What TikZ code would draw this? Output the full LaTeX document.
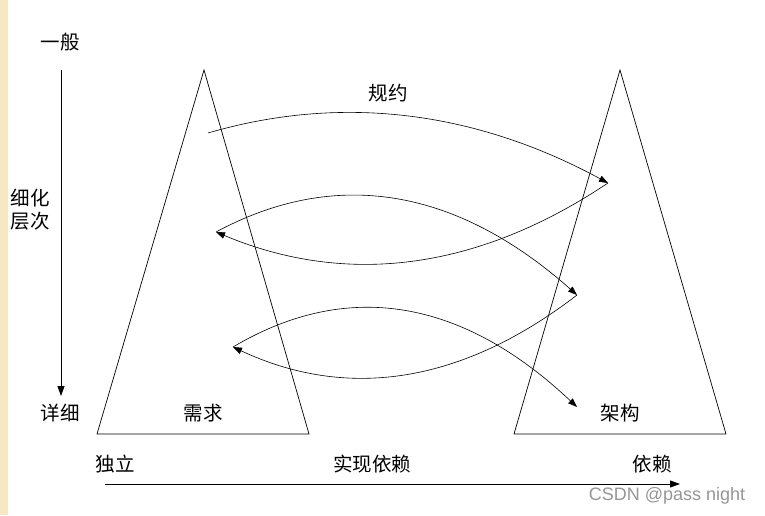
\documentclass[tikz,border=0pt]{standalone}
\usepackage{fontspec}
\newfontfamily\cjk{Noto Sans CJK SC}
\newfontfamily\wmfont{Liberation Sans}
\usetikzlibrary{arrows.meta}
\definecolor{stripc}{RGB}{246,232,196}
\definecolor{markc}{RGB}{150,150,150}
\tikzset{
  lbl/.style={font=\cjk\fontsize{19.5}{23}\selectfont, inner sep=0pt},
  wm/.style={font=\wmfont\fontsize{18}{20}\selectfont, text=markc, inner sep=0pt},
  tri/.style={draw, line width=0.7pt, line join=miter},
  arc/.style={draw, line width=0.6pt, -{Triangle[length=9pt,width=6.5pt]}},
  axis/.style={draw, line width=0.9pt, -{Triangle[length=10pt,width=7pt]}}
}
\begin{document}
\begin{tikzpicture}[x=1pt,y=-1pt]
\useasboundingbox (0,0) rectangle (765,515);
\fill[white] (0,0) rectangle (765,515);
\fill[stripc] (0,0) rectangle (8,515);
% triangles
\draw[tri] (204,70) -- (309,434) -- (97,434) -- cycle;
\draw[tri] (620,70) -- (726,434) -- (514,434) -- cycle;
% labels
\node[lbl] (general) at (60,42) {一般};
\node[lbl] (detail) at (60,413) {详细};
\node[lbl, align=left] (level) at (30,210) {细化\\层次};
\node[lbl] (req) at (203,413) {需求};
\node[lbl] (arch) at (620,413) {架构};
\node[lbl] (indep) at (115,464) {独立};
\node[lbl] (impl) at (372,464) {实现依赖};
\node[lbl] (dep) at (652,464) {依赖};
\node[lbl] (spec) at (388,93) {规约};
\node[wm] (mark) at (667,496) {CSDN @pass night};
% axes
\coordinate (vtop) at (61,70);
\coordinate (vbot) at (61,396);
\coordinate (hl) at (105,484);
\coordinate (hr) at (680,484);
\draw[axis] (vtop) -- (vbot);
\draw[axis] (hl) -- (hr);
% arc end points
\coordinate (a0) at (208,133);
\coordinate (a1) at (608,183);
\coordinate (a2) at (216,232);
\coordinate (a3) at (577,295);
\coordinate (a4) at (233,347);
\coordinate (a5) at (577,407);
\draw[arc] (a0) .. controls (341.3,94.1) and (474.7,110.8) .. (a1);
\draw[arc] (a1) .. controls (477.3,270.3) and (346.7,286.7) .. (a2);
\draw[arc] (a2) .. controls (336.3,167.3) and (456.7,188.3) .. (a3);
\draw[arc] (a3) .. controls (462.3,383.3) and (347.7,400.7) .. (a4);
\draw[arc] (a4) .. controls (347.7,279) and (462.3,299) .. (a5);
\end{tikzpicture}
\end{document}
